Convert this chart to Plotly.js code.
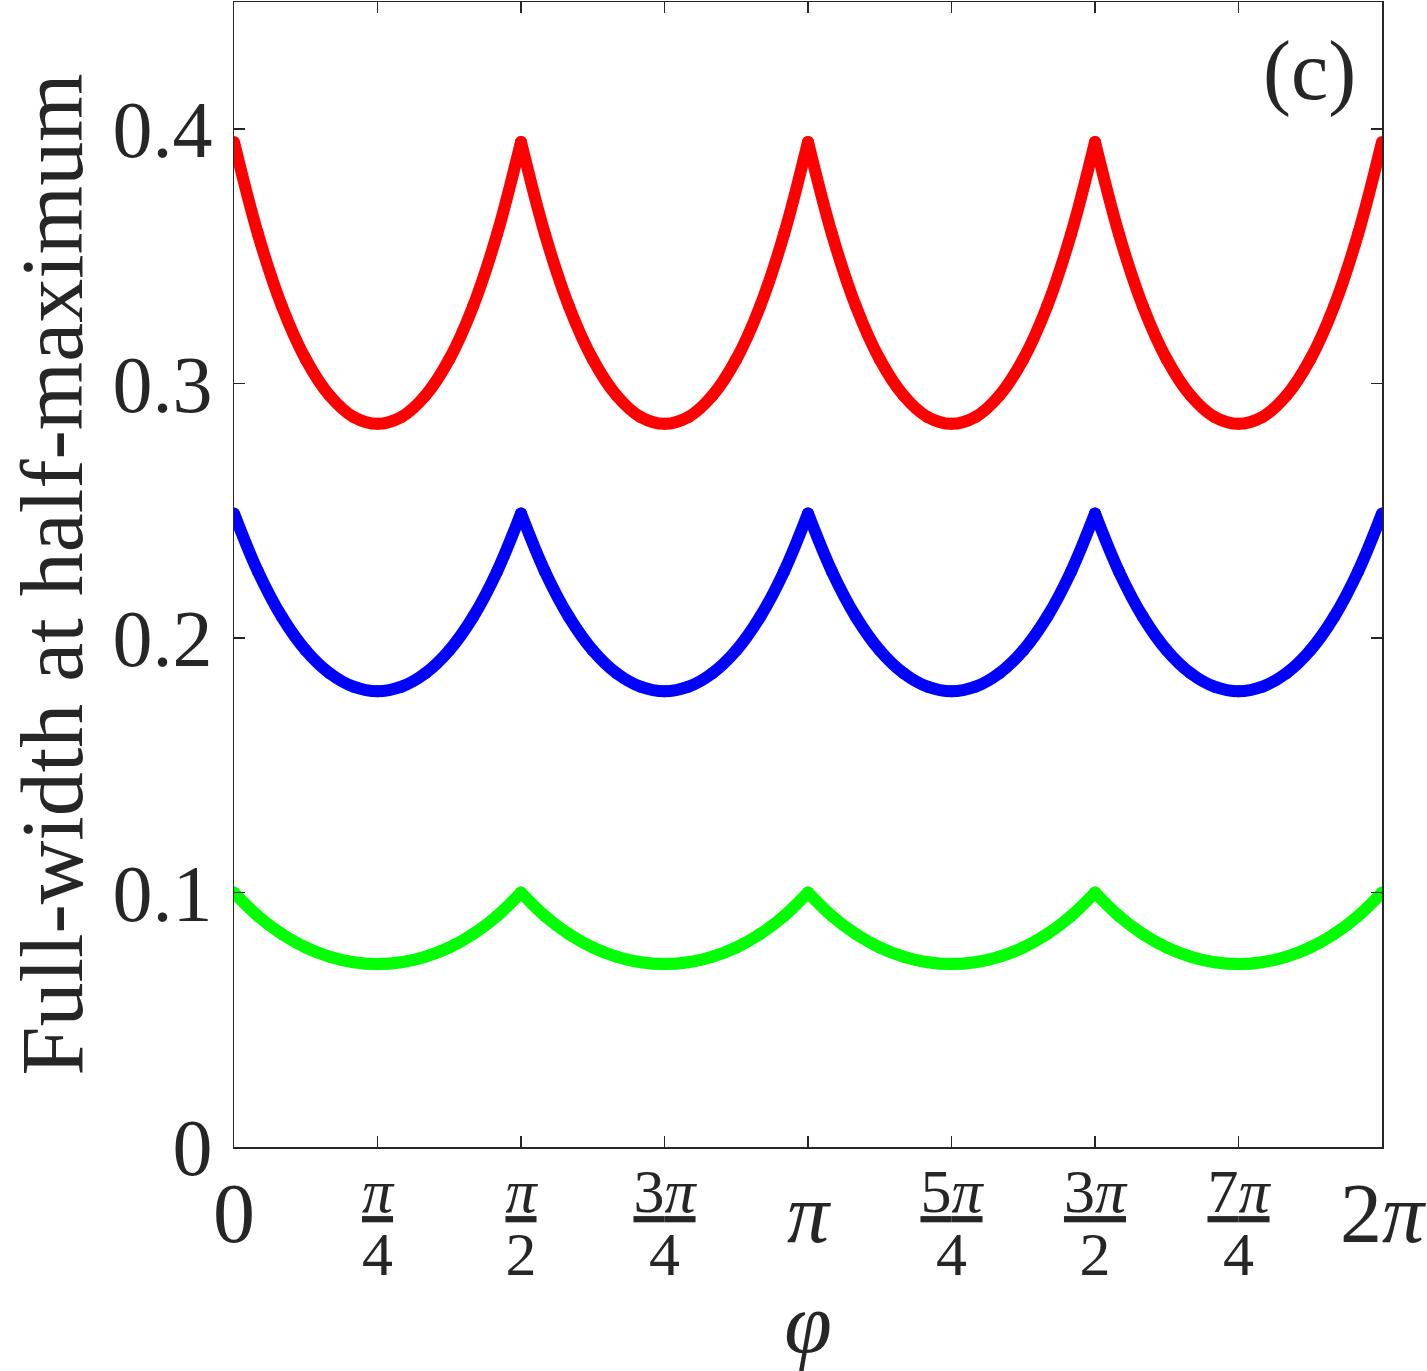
<!DOCTYPE html>
<html>
<head>
<meta charset="utf-8">
<script src="https://cdn.plot.ly/plotly-3.0.1.min.js"></script>
<style>
  html, body { margin: 0; padding: 0; background: #fff; }
  #plot { width: 1427px; height: 1371px; }
</style>
</head>
<body>
<div id="plot"></div>
<script>
// angle grid in degrees, 0 .. 360 (shown as 0 .. 2pi)
const phiDeg = [0, 7.5, 15, 22.5, 30, 37.5, 45, 52.5, 60, 67.5, 75, 82.5, 90,
  97.5, 105, 112.5, 120, 127.5, 135, 142.5, 150, 157.5, 165, 172.5, 180,
  187.5, 195, 202.5, 210, 217.5, 225, 232.5, 240, 247.5, 255, 262.5, 270,
  277.5, 285, 292.5, 300, 307.5, 315, 322.5, 330, 337.5, 345, 352.5, 360];

// red curve (top)
const fwhmRed = [0.395, 0.3588, 0.3305, 0.3096, 0.2953, 0.2869, 0.2842, 0.2869, 0.2953, 0.3096, 0.3305, 0.3588, 0.395,
  0.3588, 0.3305, 0.3096, 0.2953, 0.2869, 0.2842, 0.2869, 0.2953, 0.3096, 0.3305, 0.3588, 0.395,
  0.3588, 0.3305, 0.3096, 0.2953, 0.2869, 0.2842, 0.2869, 0.2953, 0.3096, 0.3305, 0.3588, 0.395,
  0.3588, 0.3305, 0.3096, 0.2953, 0.2869, 0.2842, 0.2869, 0.2953, 0.3096, 0.3305, 0.3588, 0.395];

// blue curve (middle)
const fwhmBlue = [0.249, 0.2262, 0.2084, 0.1952, 0.1862, 0.1809, 0.1791, 0.1809, 0.1862, 0.1952, 0.2084, 0.2262, 0.249,
  0.2262, 0.2084, 0.1952, 0.1862, 0.1809, 0.1791, 0.1809, 0.1862, 0.1952, 0.2084, 0.2262, 0.249,
  0.2262, 0.2084, 0.1952, 0.1862, 0.1809, 0.1791, 0.1809, 0.1862, 0.1952, 0.2084, 0.2262, 0.249,
  0.2262, 0.2084, 0.1952, 0.1862, 0.1809, 0.1791, 0.1809, 0.1862, 0.1952, 0.2084, 0.2262, 0.249];

// green curve (bottom)
const fwhmGreen = [0.100, 0.0908, 0.0837, 0.0784, 0.0748, 0.0726, 0.0719, 0.0726, 0.0748, 0.0784, 0.0837, 0.0908, 0.100,
  0.0908, 0.0837, 0.0784, 0.0748, 0.0726, 0.0719, 0.0726, 0.0748, 0.0784, 0.0837, 0.0908, 0.100,
  0.0908, 0.0837, 0.0784, 0.0748, 0.0726, 0.0719, 0.0726, 0.0748, 0.0784, 0.0837, 0.0908, 0.100,
  0.0908, 0.0837, 0.0784, 0.0748, 0.0726, 0.0719, 0.0726, 0.0748, 0.0784, 0.0837, 0.0908, 0.100];

// x tick labels: whole multiples of pi on one axis, fractions on an overlaid one
const bigTickVals = [0, 180, 360];
const bigTickText = ['0', '<i>π</i>', '2<i>π</i>'];
const fracTickVals = [45, 90, 135, 225, 270, 315];
const fracNum = ['<i>π</i>', '<i>π</i>', '3<i>π</i>', '5<i>π</i>', '3<i>π</i>', '7<i>π</i>'];
const fracDen = ['4', '2', '4', '4', '2', '4'];

const ink = '#262626';
const serif = '"Liberation Serif", "Times New Roman", serif';

const fracText = fracNum.map((n, i) =>
  '<span style="font-size:62px"><u>' + n + '</u></span><br>' +
  '<span style="font-size:62px">' + fracDen[i] + '</span>');

// break the curve at each cusp so the spline keeps the peaks sharp
function curve(y, color) {
  const xs = [], ys = [];
  for (let i = 0; i < y.length; i++) {
    xs.push(phiDeg[i]); ys.push(y[i]);
    if (i > 0 && i < y.length - 1 && y[i] > y[i - 1] && y[i] > y[i + 1]) {
      xs.push(null, phiDeg[i]); ys.push(null, y[i]);
    }
  }
  return {
    x: xs, y: ys, xaxis: 'x', yaxis: 'y',
    type: 'scatter', mode: 'lines+markers', connectgaps: false,
    line: { color: color, width: 12, shape: 'spline', smoothing: 1 },
    marker: { color: color, size: 12 },
    hoverinfo: 'skip'
  };
}

const data = [
  curve(fwhmRed, '#ff0000'),
  curve(fwhmBlue, '#0000ff'),
  curve(fwhmGreen, '#00ff00')
];

const axisCommon = {
  range: [0, 360],
  showgrid: false, zeroline: false,
  showline: true, linecolor: ink, linewidth: 1.5,
  ticks: 'inside', ticklen: 11, tickwidth: 1.5, tickcolor: ink,
  mirror: 'ticks',
  fixedrange: true
};

const layout = {
  width: 1427, height: 1371,
  margin: { l: 234, r: 45, t: 2, b: 224 },
  paper_bgcolor: '#fff', plot_bgcolor: '#fff',
  showlegend: false,
  font: { family: serif, color: ink },
  xaxis: Object.assign({}, axisCommon, {
    tickmode: 'array', tickvals: bigTickVals, ticktext: bigTickText,
    tickfont: { family: serif, size: 84, color: ink },
    ticklabelstandoff: -7,
    title: { text: '<i>φ</i>', font: { family: serif, size: 86, color: ink }, standoff: 62 }
  }),
  xaxis2: Object.assign({}, axisCommon, {
    overlaying: 'x', anchor: 'y', side: 'bottom',
    tickmode: 'array', tickvals: fracTickVals, ticktext: fracText,
    tickfont: { family: serif, size: 48, color: ink },
    ticklabelstandoff: 6
  }),
  yaxis: {
    range: [0, 0.45], tick0: 0, dtick: 0.1,
    showgrid: false, zeroline: false,
    showline: true, linecolor: ink, linewidth: 1.5,
    ticks: 'inside', ticklen: 11, tickwidth: 1.5, tickcolor: ink,
    mirror: 'ticks', fixedrange: true,
    tickfont: { family: serif, size: 80, color: ink },
    ticklabelstandoff: 4
  },
  annotations: [
    {
      // y-axis title, placed by hand so it sits left of the tick labels
      text: 'Full-width at half-maximum', textangle: -90,
      xref: 'paper', yref: 'paper', x: -0.1577, y: 0.5,
      xanchor: 'center', yanchor: 'middle', showarrow: false,
      font: { family: serif, size: 88, color: ink }
    },
    {
      text: '(c)', xref: 'paper', yref: 'paper', x: 0.937, y: 0.94,
      xanchor: 'center', yanchor: 'middle', showarrow: false,
      font: { family: serif, size: 84, color: ink }
    }
  ]
};

// invisible trace so the overlaid fraction axis is drawn
data.push({ x: [0], y: [0], xaxis: 'x2', yaxis: 'y', type: 'scatter', mode: 'markers',
  marker: { opacity: 0 }, hoverinfo: 'skip' });

Plotly.newPlot('plot', data, layout, { staticPlot: true });
</script>
</body>
</html>
